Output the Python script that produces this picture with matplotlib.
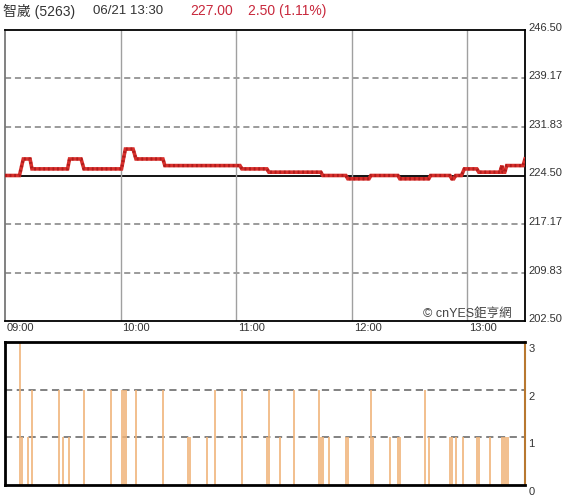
import matplotlib
matplotlib.use('Agg')
from matplotlib import pyplot as plt
import matplotlib.transforms as mtransforms
import numpy as np

plt.rcParams['font.family'] = ['Liberation Sans', 'Noto Sans CJK TC', 'DejaVu Sans']

# 走勢資料 (分鐘, 自 09:00 起)
price_t = [0, 7.5, 9.5, 13, 14, 32.5, 33.5, 39.5, 41, 60.5, 62.5, 66.5, 68, 82, 83,
           122, 123, 136, 137, 164, 165, 177, 178, 189, 190, 204, 205, 220, 221,
           231, 232, 233, 234, 237, 238.5, 245, 246, 257, 258, 258.5, 259.5, 260.5,
           269, 270]
price_v = [224.5, 224.5, 227.0, 227.0, 225.5, 225.5, 227.0, 227.0, 225.5, 225.5, 228.5,
           228.5, 227.0, 227.0, 226.0, 226.0, 225.5, 225.5, 225.0, 225.0, 224.5, 224.5,
           224.0, 224.0, 224.5, 224.5, 224.0, 224.0, 224.5, 224.5, 224.0, 224.0, 224.5,
           224.5, 225.5, 225.5, 225.0, 225.0, 226.0, 225.0, 225.0, 226.0, 226.0, 227.0]

# 成交量
vol_t = [8, 9, 12, 14, 28, 30, 33, 41, 55, 61, 62, 63, 68, 82, 95, 96, 105, 109, 123,
         136, 137, 143, 150, 163, 164, 165, 168, 177, 178, 190, 191, 200, 204, 205,
         218, 220, 231, 232, 234, 238, 245, 246, 252, 258, 259, 260, 261, 270]
vol_v = [3, 1, 1, 2, 2, 1, 1, 2, 2, 2, 2, 2, 2, 2, 1, 1, 1, 2, 2,
         1, 2, 1, 2, 2, 1, 1, 1, 1, 1, 2, 1, 1, 1, 1,
         2, 1, 1, 1, 1, 1, 1, 1, 1, 1, 1, 1, 1, 3]

prev_close = 224.5
price_ticks = [202.5, 209.8333, 217.1667, 224.5, 231.8333, 239.1667, 246.5]
time_ticks = [0, 60, 120, 180, 240]
time_labels = ['09:00', '10:00', '11:00', '12:00', '13:00']
vol_ticks = [0, 1, 2, 3]

fig = plt.figure(figsize=(5.8, 5.0), dpi=100)
ax1 = fig.add_axes([5 / 580, 1 - 321 / 500, 520 / 580, 291 / 500])
ax2 = fig.add_axes([5 / 580, 1 - 485 / 500, 520 / 580, 143 / 500])

# 上圖: 價格
ax1.set_xlim(0, 270)
ax1.set_ylim(202.5, 246.5)
for y in price_ticks[1:-1]:
    if y == prev_close:
        ax1.axhline(y, color='black', lw=1.3, zorder=1)
    else:
        ax1.axhline(y, color='#808080', lw=1.1, ls=(0, (4, 2.5)), zorder=1)
for x in time_ticks[1:]:
    ax1.axvline(x, color='#a0a0a0', lw=1, zorder=1)
ax1.plot(price_t, price_v, color='#d8302c', lw=2.6, zorder=3, solid_joinstyle='miter')
ax1.plot(price_t, price_v, color='#b01c1c', lw=2.2, ls=(0, (0.6, 0.9)), zorder=4)

ax1.yaxis.tick_right()
ax1.set_yticks(price_ticks)
ax1.set_yticklabels(['%.2f' % v for v in price_ticks])
ax1.tick_params(axis='y', length=0, pad=2.5, labelsize=8, labelcolor='#333333')
up = mtransforms.ScaledTranslation(0, 3 / 100, fig.dpi_scale_trans)
for lab in ax1.get_yticklabels():
    lab.set_transform(lab.get_transform() + up)
ax1.set_xticks(time_ticks)
ax1.set_xticklabels(time_labels)
ax1.tick_params(axis='x', length=0, pad=1.5, labelsize=8, labelcolor='#333333')
for lab in ax1.get_xticklabels():
    lab.set_horizontalalignment('left')
right = mtransforms.ScaledTranslation(2 / 100, 0, fig.dpi_scale_trans)
for lab in ax1.get_xticklabels():
    lab.set_transform(lab.get_transform() + right)
for s in ['top', 'right', 'bottom']:
    ax1.spines[s].set_color('black')
    ax1.spines[s].set_linewidth(1.3)
ax1.spines['left'].set_color('#777777')
ax1.spines['left'].set_linewidth(1.3)

ax1.text(0.975, 0.004, '© cnYES鉅亨網', transform=ax1.transAxes, ha='right', va='bottom',
         fontsize=9, color='#444444', zorder=5)

# 下圖: 成交量
ax2.set_xlim(0, 270)
ax2.set_ylim(0, 3)
for y in [1, 2]:
    ax2.axhline(y, color='#777777', lw=1.3, ls=(0, (4, 2.5)), zorder=1)
ax2.vlines(vol_t, 0, vol_v, color='#f0b47a', lw=1.2, zorder=2)
ax2.set_xticks([])
ax2.yaxis.tick_right()
ax2.set_yticks(vol_ticks)
ax2.set_yticklabels([str(v) for v in vol_ticks])
ax2.tick_params(axis='y', length=0, pad=2.5, labelsize=8, labelcolor='#333333')
down = mtransforms.ScaledTranslation(0, -6 / 100, fig.dpi_scale_trans)
for lab in ax2.get_yticklabels():
    lab.set_transform(lab.get_transform() + down)
for s in ['top', 'left', 'bottom']:
    ax2.spines[s].set_color('black')
    ax2.spines[s].set_linewidth(2)
ax2.spines['right'].set_color('#b87830')
ax2.spines['right'].set_linewidth(1.5)

# 標題列
fig.text(3 / 580, 1 - 11 / 500, '智崴 (5263)', fontsize=10, color='#333333', va='center')
fig.text(93 / 580, 1 - 11 / 500, '06/21 13:30', fontsize=9.5, color='#333333', va='center')
fig.text(190 / 580, 1 - 11 / 500, '227.00', fontsize=10, color='#c8283c', va='center')
fig.text(248 / 580, 1 - 11 / 500, '2.50 (1.11%)', fontsize=10, color='#c8283c', va='center')

plt.savefig('out.png', dpi=100)
